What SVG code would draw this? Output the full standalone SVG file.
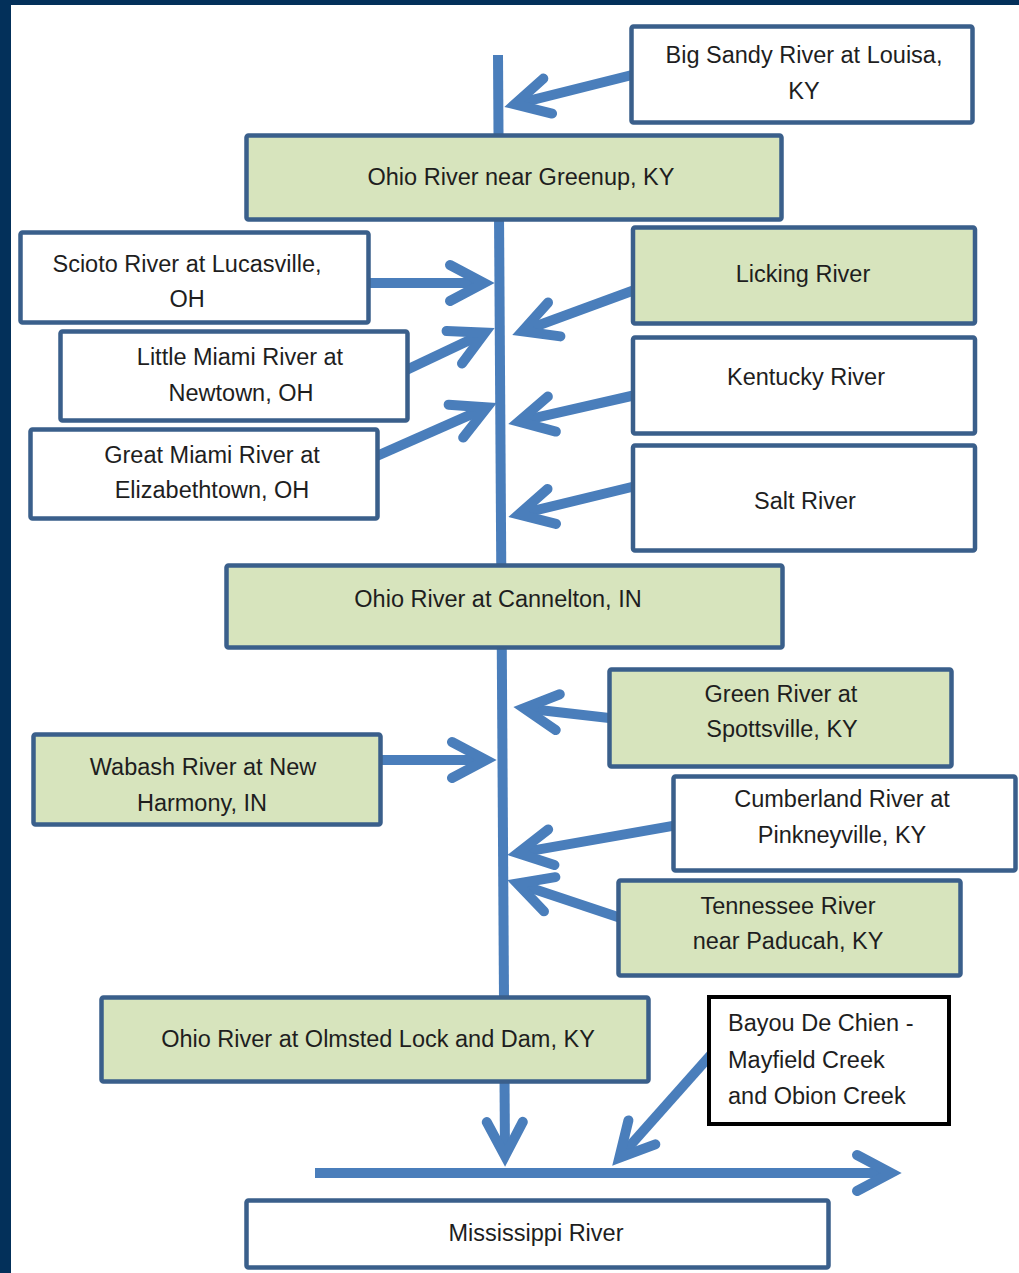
<svg xmlns="http://www.w3.org/2000/svg" width="1019" height="1273" viewBox="0 0 1019 1273">
<defs>
<style>
.box{fill:#ffffff;stroke:#3a5f8b;stroke-width:4.5}
.green{fill:#d7e4bd}
.black{fill:#ffffff;stroke:#000000;stroke-width:4}
text{font-family:"Liberation Sans",Arial,sans-serif;font-size:23.5px;fill:#1e1e1e;text-anchor:middle}
.left{text-anchor:start}
.ln{fill:none;stroke:#4a7ebb;stroke-width:10;stroke-linecap:butt;marker-end:url(#head)}
</style>
<marker id="head" markerUnits="strokeWidth" refX="0" refY="0" markerWidth="10" markerHeight="10" orient="auto" overflow="visible">
<path d="M-3.4,-1.8 L0,0 L-3.4,1.8" fill="none" stroke="#4a7ebb" stroke-width="1" stroke-linecap="round" stroke-linejoin="miter" stroke-miterlimit="10"/>
</marker>
</defs>
<rect x="0" y="0" width="1019" height="1273" fill="#03305a"/>
<rect x="11" y="5" width="1008" height="1268" fill="#ffffff"/>

<g id="connectors">
<line class="ln" x1="498" y1="55" x2="505" y2="1156"/>
<line class="ln" x1="315" y1="1173" x2="891" y2="1173"/>
<line class="ln" x1="640" y1="73" x2="514.7" y2="104.3"/>
<line class="ln" x1="360" y1="283" x2="484" y2="283"/>
<line class="ln" x1="640" y1="288" x2="522.3" y2="331.2"/>
<line class="ln" x1="400" y1="373" x2="485" y2="332.7"/>
<line class="ln" x1="370" y1="459" x2="487" y2="407.4"/>
<line class="ln" x1="640" y1="394" x2="518.7" y2="421.6"/>
<line class="ln" x1="640" y1="485" x2="518.7" y2="514.4"/>
<line class="ln" x1="618" y1="719" x2="524" y2="708.3"/>
<line class="ln" x1="372" y1="760" x2="486" y2="760"/>
<line class="ln" x1="680" y1="824.6" x2="517.8" y2="853.1"/>
<line class="ln" x1="626" y1="919.7" x2="517.4" y2="883.5"/>
<line class="ln" x1="716" y1="1049" x2="619.3" y2="1157.8"/>
</g>

<g id="big-sandy">
<rect class="box" x="631.5" y="26.5" width="341" height="96" rx="2"/>
<text x="804" y="63">Big Sandy River at Louisa,</text>
<text x="804" y="99">KY</text>
</g>
<g id="ohio-greenup">
<rect class="box green" x="246.5" y="135.5" width="535" height="84" rx="2"/>
<text x="521" y="185">Ohio River near Greenup, KY</text>
</g>
<g id="scioto">
<rect class="box" x="20.5" y="232.5" width="348" height="90" rx="2"/>
<text x="187" y="272">Scioto River at Lucasville,</text>
<text x="187" y="307">OH</text>
</g>
<g id="licking">
<rect class="box green" x="633" y="227.5" width="342" height="96" rx="2"/>
<text x="803" y="282">Licking River</text>
</g>
<g id="little-miami">
<rect class="box" x="60.5" y="331.5" width="347" height="89" rx="2"/>
<text x="240" y="365">Little Miami River at</text>
<text x="241" y="401">Newtown, OH</text>
</g>
<g id="kentucky">
<rect class="box" x="633" y="337.5" width="342" height="96" rx="2"/>
<text x="806" y="385">Kentucky River</text>
</g>
<g id="great-miami">
<rect class="box" x="30.5" y="429.5" width="347" height="89" rx="2"/>
<text x="212" y="463">Great Miami River at</text>
<text x="212" y="498">Elizabethtown, OH</text>
</g>
<g id="salt">
<rect class="box" x="633" y="445.5" width="342" height="105" rx="2"/>
<text x="805" y="509">Salt River</text>
</g>
<g id="ohio-cannelton">
<rect class="box green" x="226.5" y="565.5" width="556" height="82" rx="2"/>
<text x="498" y="607">Ohio River at Cannelton, IN</text>
</g>
<g id="green">
<rect class="box green" x="609.5" y="669.5" width="342" height="97" rx="2"/>
<text x="781" y="702">Green River at</text>
<text x="782" y="737">Spottsville, KY</text>
</g>
<g id="wabash">
<rect class="box green" x="33.5" y="734.5" width="347" height="90" rx="2"/>
<text x="203" y="775">Wabash River at New</text>
<text x="202" y="811">Harmony, IN</text>
</g>
<g id="cumberland">
<rect class="box" x="673.5" y="776.5" width="342" height="94" rx="2"/>
<text x="842" y="807">Cumberland River at</text>
<text x="842" y="843">Pinkneyville, KY</text>
</g>
<g id="tennessee">
<rect class="box green" x="618.5" y="880.5" width="342" height="95" rx="2"/>
<text x="788" y="914">Tennessee River</text>
<text x="788" y="949">near Paducah, KY</text>
</g>
<g id="ohio-olmsted">
<rect class="box green" x="101.5" y="997.5" width="547" height="84" rx="2"/>
<text x="378" y="1047">Ohio River at Olmsted Lock and Dam, KY</text>
</g>
<g id="bayou">
<rect class="black" x="709" y="997" width="240" height="127"/>
<text class="left" x="728" y="1031">Bayou De Chien -</text>
<text class="left" x="728" y="1068">Mayfield Creek</text>
<text class="left" x="728" y="1104">and Obion Creek</text>
</g>
<g id="mississippi">
<rect class="box" x="246.5" y="1200.5" width="582" height="67" rx="2"/>
<text x="536" y="1241">Mississippi River</text>
</g>
</svg>
